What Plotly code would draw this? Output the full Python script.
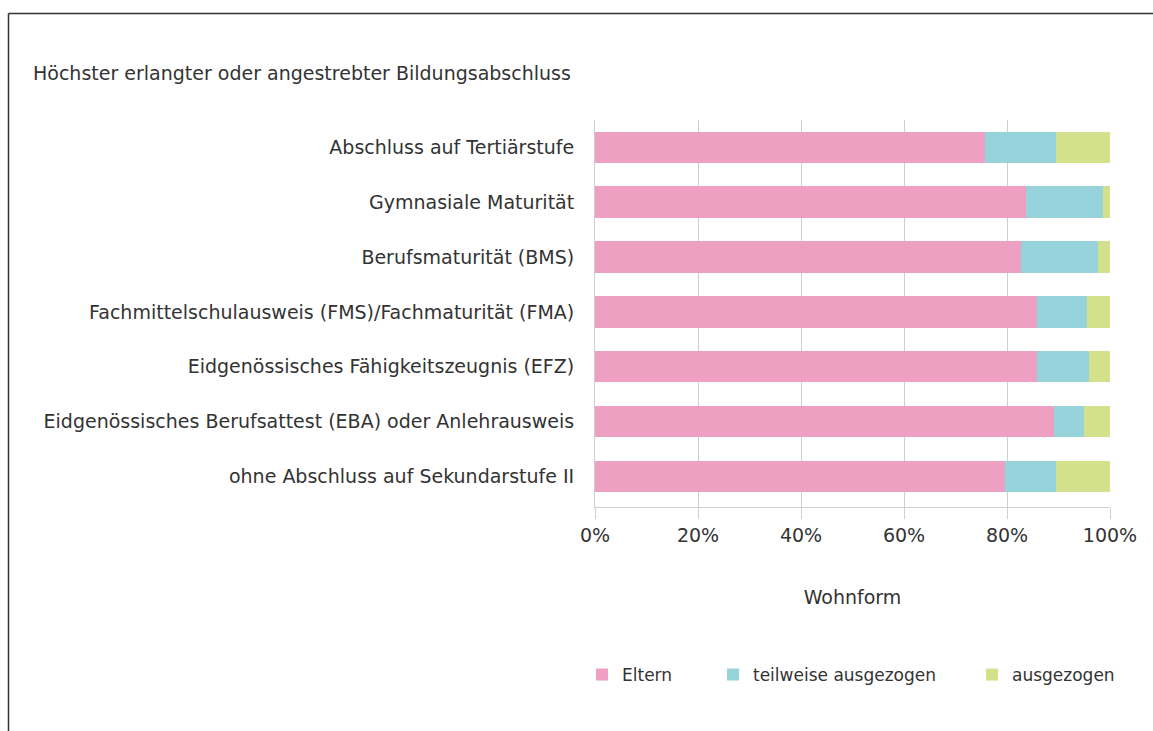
import plotly.graph_objects as go

# Highest completed or targeted education level (top to bottom)
categories = [
    "Abschluss auf Tertiärstufe",
    "Gymnasiale Maturität",
    "Berufsmaturität (BMS)",
    "Fachmittelschulausweis (FMS)/Fachmaturität (FMA)",
    "Eidgenössisches Fähigkeitszeugnis (EFZ)",
    "Eidgenössisches Berufsattest (EBA) oder Anlehrausweis",
    "ohne Abschluss auf Sekundarstufe II",
]

# Share of each living arrangement, in percent
eltern = [75.7, 83.6, 82.7, 85.8, 85.8, 89.1, 79.6]
teilweise_ausgezogen = [13.8, 15.0, 15.0, 9.7, 10.1, 5.9, 9.9]
ausgezogen = [10.5, 1.4, 2.3, 4.5, 4.1, 5.0, 10.5]

series_names = ["Eltern", "teilweise ausgezogen", "ausgezogen"]
series_values = [eltern, teilweise_ausgezogen, ausgezogen]
series_colors = ["#EEA0C3", "#97D3DA", "#D4E18C"]

x_ticks = [0, 20, 40, 60, 80, 100]
x_ticktext = [f"{v}%" for v in x_ticks]
x_title = "Wohnform"
chart_title = "Höchster erlangter oder angestrebter Bildungsabschluss"

# Page geometry (pixels)
W, H = 1153, 731
L, R, T, B = 595, 1110, 120, 507
FONT = "DejaVu Sans"
FS = 19
TEXT = "#333333"
GRID = "#cfcfcf"


def px(x):
    return (x - L) / (R - L)


def py(y):
    return (B - y) / (B - T)


fig = go.Figure()
legend_ids = ["legend", "legend2", "legend3"]
for name, vals, color, lg in zip(series_names, series_values, series_colors, legend_ids):
    fig.add_trace(go.Bar(
        y=categories, x=vals, name=name, orientation="h",
        marker=dict(color=color, line=dict(width=0)),
        legend=lg, hoverinfo="x+y+name",
    ))

legend_style = dict(
    orientation="h", xref="container", yref="container",
    yanchor="middle", y=1 - 675 / H, font=dict(family=FONT, size=17, color=TEXT),
    bgcolor="rgba(0,0,0,0)", itemwidth=30, borderwidth=0,
)
fig.update_layout(
    width=W, height=H,
    margin=dict(l=L, r=W - R, t=T, b=H - B, pad=0),
    paper_bgcolor="white", plot_bgcolor="white",
    barmode="stack", bargap=0.425,
    font=dict(family=FONT, size=FS, color=TEXT),
    title=dict(text=chart_title, xref="container", yref="container",
               x=33 / W, xanchor="left", y=1 - 73 / H, yanchor="middle",
               font=dict(family=FONT, size=FS, color=TEXT)),
    legend=dict(legend_style, x=582 / W),
    legend2=dict(legend_style, x=713 / W),
    legend3=dict(legend_style, x=972 / W),
    xaxis=dict(
        range=[0, 100], tickvals=x_ticks, ticktext=x_ticktext,
        showgrid=True, gridcolor=GRID, gridwidth=1,
        showline=True, linecolor=GRID, linewidth=1,
        ticks="outside", ticklen=11, tickcolor=GRID, tickwidth=1,
        tickfont=dict(family=FONT, size=FS, color=TEXT),
        title=dict(text=x_title, standoff=45, font=dict(family=FONT, size=FS, color=TEXT)),
        zeroline=False, fixedrange=True,
    ),
    yaxis=dict(
        categoryorder="array", categoryarray=categories,
        range=[len(categories) - 0.44, -0.5],
        showline=True, linecolor=GRID, linewidth=1,
        showgrid=False, ticks="", ticklabelstandoff=16,
        tickfont=dict(family=FONT, size=FS, color=TEXT),
        fixedrange=True,
    ),
    showlegend=True,
)

# Frame around the figure (left and top edges)
frame = dict(type="line", xref="paper", yref="paper",
             line=dict(color="#333333", width=1.5), layer="above")
fig.add_shape(frame, x0=px(8.5), x1=px(8.5), y0=py(H + 10), y1=py(13.5))
fig.add_shape(frame, x0=px(8.5), x1=px(W + 10), y0=py(13.5), y1=py(13.5))

fig.write_html("out.html")
